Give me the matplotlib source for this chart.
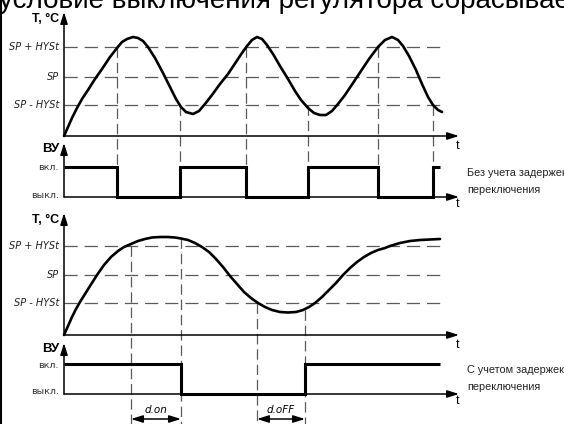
import matplotlib
matplotlib.use("Agg")
import matplotlib.pyplot as plt

plt.rcParams['lines.scale_dashes'] = False

# ---------------- data (pixel coordinates of the schematic) ----------------
title_text = "условие выключения регулятора сбрасывает"
level_labels = ["SP + HYSt", "SP", "SP - HYSt"]
relay_labels = ["вкл.", "выкл."]
note1 = ["Без учета задержек", "переключения"]
note2 = ["С учетом задержек", "переключения"]

# panel 1 (no delay): levels SP+HySt, SP, SP-HySt, time axis
p1_levels = [47, 77, 105]
p1_axis = 136
p1_top = 12
top_x = [64, 68, 72, 77, 82, 88, 95, 102, 110, 117, 122, 127, 133, 138, 143, 148, 155, 163, 170, 176,
         181, 186, 193, 199, 205, 212, 220, 228, 236, 242, 247, 252, 257, 262, 267, 273, 280, 288, 295,
         301, 308, 314, 320, 326, 332, 338, 345, 353, 361, 369, 378, 385, 392, 398, 403, 409, 416, 422,
         428, 433, 438, 442]
top_y = [136, 127, 118, 108, 99, 90, 79, 69, 57, 48, 42, 39, 37, 38, 41, 47, 58, 73, 87, 99,
         107, 112, 114, 111, 104, 95, 84, 74, 62, 53, 46, 40, 37, 39, 45, 54, 66, 79, 91,
         100, 108, 113, 115, 115, 111, 104, 95, 83, 71, 59, 47, 40, 37, 40, 46, 56, 70, 84,
         97, 105, 110, 112]
# switching instants (x) and start of dashed markers (y)
sw1_x = [117, 180, 246, 308, 378, 433]
sw1_y = [47, 105, 47, 105, 47, 105]
relay1_x = [64, 117, 117, 180, 180, 246, 246, 308, 308, 378, 378, 433, 433, 440]
relay1_s = [1, 1, 0, 0, 1, 1, 0, 0, 1, 1, 0, 0, 1, 1]
r1_on, r1_off, r1_top = 167, 197, 143

# panel 2 (with delay)
p2_levels = [246, 275, 303]
p2_axis = 335
p2_top = 213
bot_x = [64, 68, 72, 76, 80, 85, 90, 97, 104, 111, 118, 124, 131, 138, 145, 152, 160, 168, 175, 181,
         188, 195, 202, 209, 216, 223, 230, 237, 244, 251, 258, 265, 272, 280, 288, 296, 303, 309,
         315, 322, 329, 336, 343, 350, 357, 364, 371, 378, 385, 390, 400, 410, 420, 430, 440]
bot_y = [335, 326, 317, 309, 302, 294, 286, 275, 265, 257, 251, 247, 244, 241, 239, 237.5, 237, 237,
         237.5, 238.5, 240, 243, 247, 252, 259, 267, 276, 284, 292, 298, 303, 307, 310, 312, 312.5,
         312, 310, 307, 303, 297, 290, 283, 275, 268, 262, 257, 253, 250, 248, 246, 243, 241, 240,
         239.5, 239]
sw2_x = [131, 181, 257, 305]
sw2_y = [246, 238, 303, 310]
relay2_x = [64, 181, 181, 305, 305, 440]
relay2_s = [1, 1, 0, 0, 1, 1]
r2_on, r2_off, r2_top = 364, 394, 343
delay_labels = ["d.on", "d.oFF"]
delay_spans = [(131, 181), (257, 305)]
delay_y = 419

# ---------------- drawing ----------------
W, H = 564, 424
fig = plt.figure(figsize=(W / 100, H / 100), dpi=100)
ax = fig.add_axes([0, 0, 1, 1])
ax.set_xlim(0, W)
ax.set_ylim(H, 0)
ax.axis('off')

GREY = '#5a5a5a'
hdash = (9.5, 5.0)
vdash = (7.5, 3.5)
AX_LW = 1.1
x0, xend, xarrow = 64, 445, 459

def arrow(x1, y1, x2, y2, style='-|>'):
    ax.annotate('', xy=(x2, y2), xytext=(x1, y1), xycoords='data',
                arrowprops=dict(arrowstyle=style + ',head_length=0.7,head_width=0.22',
                                lw=AX_LW, color='k', shrinkA=0, shrinkB=0,
                                mutation_scale=10))

def panel_temp(levels, axis_y, top_y_, cx, cy, sw_x, sw_y, vbot):
    for lv in levels:
        ax.plot([x0, xend], [lv, lv], color=GREY, lw=0.9, dashes=hdash, solid_capstyle='butt')
    for sx, sy in zip(sw_x, sw_y):
        ax.plot([sx, sx], [sy, vbot], color=GREY, lw=0.9, dashes=vdash)
    arrow(x0, axis_y, x0, top_y_)
    arrow(x0, axis_y, xarrow, axis_y)
    ax.plot(cx, cy, color='k', lw=1.9, solid_joinstyle='round', solid_capstyle='round')
    lab_fs = 7
    for lv, txt in zip(levels, level_labels):
        ax.text(59, lv, txt, ha='right', va='center', fontsize=lab_fs, style='italic',
                family='DejaVu Sans', color='#222222')
    ax.text(59, top_y_ + 7, "T, °C", ha='right', va='center', fontsize=9, weight='bold',
            family='Liberation Sans')
    ax.text(458, axis_y + 10, "t", ha='center', va='center', fontsize=9, family='Liberation Sans')

def panel_relay(on, off, top_, rx, rs, notes):
    arrow(x0, off, x0, top_)
    arrow(x0, off, xarrow, off)
    ys = [on if s else off for s in rs]
    ax.plot(rx, ys, color='k', lw=2.2, solid_joinstyle='miter', solid_capstyle='butt')
    ax.text(59, top_ + 6, "ВУ", ha='right', va='center', fontsize=9.5, weight='bold',
            family='Liberation Sans')
    ax.text(59, on + 1, relay_labels[0], ha='right', va='center', fontsize=6.8,
            family='DejaVu Sans', color='#333333')
    ax.text(59, off - 2, relay_labels[1], ha='right', va='center', fontsize=6.8,
            family='DejaVu Sans', color='#333333')
    ax.text(458, off + 7, "t", ha='center', va='center', fontsize=9, family='Liberation Sans')
    ax.text(467, on + 6, notes[0], ha='left', va='center', fontsize=7.8,
            family='Liberation Sans', color='#222222')
    ax.text(467, on + 23, notes[1], ha='left', va='center', fontsize=7.8,
            family='Liberation Sans', color='#222222')

# title (cut at the top)
ax.text(-1, 8, title_text, ha='left', va='baseline', fontsize=20, family='Liberation Sans')
# left border
ax.plot([1, 1], [0, H], color='k', lw=1.5)

panel_temp(p1_levels, p1_axis, p1_top, top_x, top_y, sw1_x, sw1_y, r1_on)
panel_relay(r1_on, r1_off, r1_top, relay1_x, relay1_s, note1)
panel_temp(p2_levels, p2_axis, p2_top, bot_x, bot_y, sw2_x, sw2_y, H)
panel_relay(r2_on, r2_off, r2_top, relay2_x, relay2_s, note2)

for (a, b), lab in zip(delay_spans, delay_labels):
    arrow(a, delay_y, b, delay_y, style='<|-|>')
    ax.text((a + b) / 2, delay_y - 9, lab, ha='center', va='center', fontsize=7.5,
            style='italic', family='DejaVu Sans')

fig.savefig('out.png', dpi=100)
